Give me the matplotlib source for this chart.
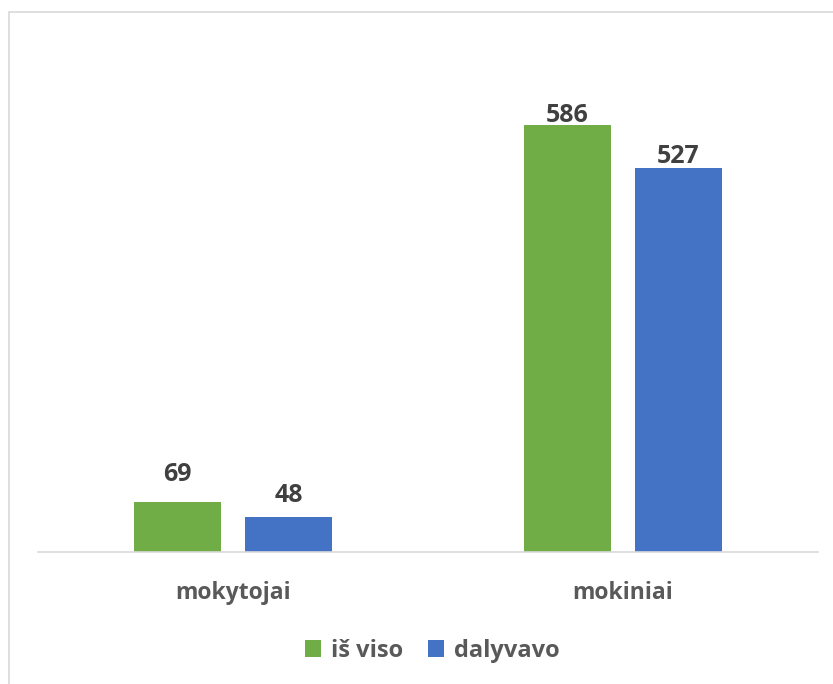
import matplotlib
matplotlib.use("Agg")
import matplotlib.pyplot as plt
import matplotlib.patches as mpatches
import numpy as np

categories = ["mokytojai", "mokiniai"]
series_names = ["iš viso", "dalyvavo"]
is_viso = [69, 586]
dalyvavo = [48, 527]

colors = ["#70AD47", "#4472C4"]
label_pad = [[19, 1], [13, 3]]  # px gap above each bar, per series

plt.rcParams["font.family"] = ["Open Sans", "DejaVu Sans"]

fig = plt.figure(figsize=(8.33, 6.84), dpi=100)
W, H = 833, 684
ax = fig.add_axes([38 / W, 1 - 552 / H, (818 - 38) / W, (552 - 42) / H])

x = np.arange(len(categories))
width = 0.2225
offsets = [-0.142, 0.142]
for i, vals in enumerate([is_viso, dalyvavo]):
    bars = ax.bar(x + offsets[i], vals, width, color=colors[i], label=series_names[i], zorder=2)
    for j, b in enumerate(bars):
        ax.annotate(str(vals[j]), (b.get_x() + b.get_width() / 2, b.get_height()),
                    xytext=(0, label_pad[i][j] * 0.72 - 3), textcoords="offset points",
                    ha="center", va="bottom", fontsize=18, fontweight="bold",
                    color="#404040")

ax.set_xlim(-0.5, 1.5)
ax.set_ylim(0, 700)
ax.set_yticks([])
ax.set_xticks(x)
ax.set_xticklabels(categories, fontsize=16.5, fontweight="bold", color="#595959")
ax.tick_params(axis="x", length=0, pad=21)
for s in ["top", "right", "left"]:
    ax.spines[s].set_visible(False)
ax.spines["bottom"].set_color("#D9D9D9")
ax.spines["bottom"].set_linewidth(1.2)

leg = ax.legend(loc="center", bbox_to_anchor=(432 / W, 1 - 651 / H),
                bbox_transform=fig.transFigure, ncol=2, frameon=False,
                prop={"size": 17, "weight": "bold"}, handlelength=0.7,
                handleheight=0.7, handletextpad=0.4, columnspacing=1.05)
for t in leg.get_texts():
    t.set_color("#595959")

# chart area border (clipped by the image edge on right/bottom)
fig.patches.append(mpatches.Rectangle((9 / W, -0.01), 1.0, 1 - 12 / H + 0.01,
                                      transform=fig.transFigure, fill=False,
                                      edgecolor="#D9D9D9", linewidth=1.2))

plt.savefig("out.png", dpi=100)
plt.close()
